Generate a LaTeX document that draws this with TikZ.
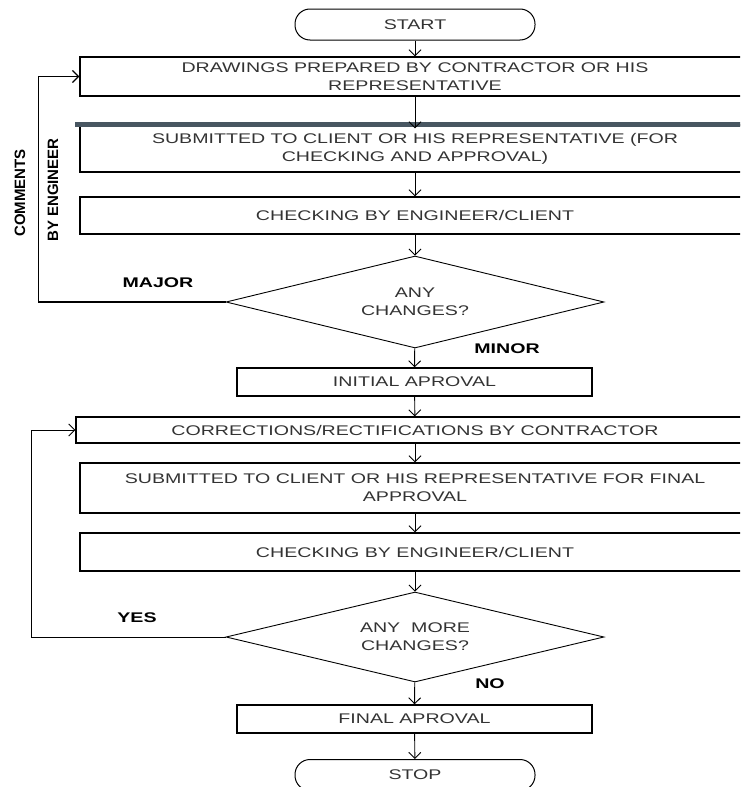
\documentclass[tikz,border=0pt]{standalone}
\usepackage{fontspec}
\setmainfont{Liberation Sans}[FakeStretch=1.4]
\newfontfamily\sidefont{Liberation Sans}
\usetikzlibrary{shapes.geometric,arrows.meta}

\begin{document}
\begin{tikzpicture}
[x=1pt,y=-1pt,%
  every node/.style={align=center,inner sep=0pt,text=black!80},%
  box/.style={draw=black,line width=1.3pt,minimum width=670pt},%
  term/.style={draw=black,line width=1pt,rounded corners=15pt,minimum width=240pt,minimum height=31pt},%
  choice/.style={draw=black,shape=diamond,aspect=4,line width=0.9pt,minimum width=378pt,minimum height=92pt},%
  flow/.style={-{Straight Barb[length=6pt,width=12pt]},line width=0.9pt},%
  tag/.style={text=black,font=\bfseries},%
  sidetag/.style={text=black,font=\sidefont\bfseries\fontsize{15}{15}\selectfont,rotate=90}]
\fontsize{14}{18}\selectfont
\clip (0,0) rectangle (740,787);
% first round
\node[term] (start) at (415,24.5) {START};
\node[box,minimum height=39pt] (draw) at (415,76.5) {DRAWINGS PREPARED BY CONTRACTOR OR HIS\\REPRESENTATIVE};
\node[box,minimum height=47pt] (sub) at (415,148.5) {SUBMITTED TO CLIENT OR HIS REPRESENTATIVE (FOR\\CHECKING AND APPROVAL)};
\draw[line width=5pt,draw={rgb,255:red,72;green,86;blue,97}] ([xshift=-4pt]sub.north west) -- (sub.north east);
\node[box,minimum height=37pt] (chk) at (415,215.5) {CHECKING BY ENGINEER/CLIENT};
\node[choice] (any) at (415,302) {ANY\\CHANGES?};
\node[box,minimum width=355pt,minimum height=28pt] (init) at (414.5,382) {INITIAL APROVAL};
% second round
\node[box,minimum width=678pt,minimum height=26pt] (corr) at (415,430) {CORRECTIONS/RECTIFICATIONS BY CONTRACTOR};
\node[box,minimum height=50pt] (subf) at (415,488) {SUBMITTED TO CLIENT OR HIS REPRESENTATIVE FOR FINAL\\APPROVAL};
\node[box,minimum height=38pt] (chkf) at (415,552) {CHECKING BY ENGINEER/CLIENT};
\node[choice,minimum height=90pt] (more) at (415,637) {ANY~ MORE\\CHANGES?};
\node[box,minimum width=355pt,minimum height=28pt] (fin) at (414.5,719) {FINAL APROVAL};
\node[term] (stop) at (415,775) {STOP};
% arrows
\draw[flow] (start) -- (draw);
\draw[flow] (draw) -- ([yshift=-4pt]sub.north);
\draw[flow] (sub) -- (chk);
\draw[flow] (chk) -- (any);
\draw[flow] (any) -- (init);
\draw[flow] (init) -- (corr);
\draw[flow] (corr) -- (subf);
\draw[flow] (subf) -- (chkf);
\draw[flow] (chkf) -- (more);
\draw[flow] (more) -- (fin);
\draw[flow] (fin) -- (stop);
\draw[flow,line width=1.3pt] (any.west) -- ++(-187,0) |- (draw.west);
\draw[flow] (more.west) -- ++(-194,0) |- (corr.west);
% labels
\node[tag] (major) at (158,283) {MAJOR};
\node[tag] (minor) at (507,349) {MINOR};
\node[tag] (yes) at (137,618) {YES};
\node[tag] (no) at (490,684) {NO};
\node[sidetag] (comm) at (20,193) {COMMENTS};
\node[sidetag] (byeng) at (53,190) {BY ENGINEER};
\end{tikzpicture}
\end{document}
